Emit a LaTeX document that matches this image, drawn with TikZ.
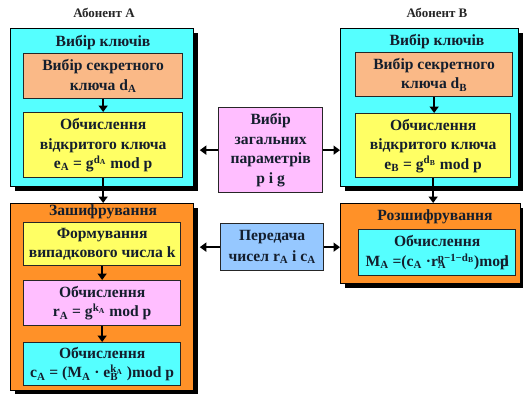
\documentclass[tikz,border=0pt]{standalone}
\usepackage{fontspec}
\setmainfont{Liberation Serif}[BoldFont={Liberation Serif Bold},ItalicFont={Liberation Serif Italic}]
\usetikzlibrary{shadows,arrows.meta}
\definecolor{cyanc}{RGB}{85,255,255}
\definecolor{orangec}{RGB}{255,145,40}
\definecolor{salmonc}{RGB}{250,185,135}
\definecolor{yellowc}{RGB}{255,255,100}
\definecolor{pinkc}{RGB}{255,190,255}
\definecolor{bluec}{RGB}{150,200,255}
\definecolor{txtc}{RGB}{20,30,45}
\begin{document}
\begin{tikzpicture}[x=1pt,y=-1pt,
 outerbox/.style={draw=black,line width=0.8pt,anchor=north west,inner sep=0pt,
   drop shadow={shadow xshift=5pt,shadow yshift=-5pt,fill=black,opacity=1}},
 innerbox/.style={draw=black!85,line width=1.3pt,anchor=north west,inner sep=0pt,align=center,
   font=\bfseries\fontsize{15.6}{19.5}\selectfont,text=txtc},
 boxtitle/.style={font=\bfseries\fontsize{15.6}{17}\selectfont,text=txtc},
 headlbl/.style={font=\bfseries\fontsize{13}{15}\selectfont,text=black!85},
 arr/.style={line width=1.7pt,-{Triangle[length=6.5pt,width=9pt]}}]
\useasboundingbox (0,0) rectangle (523,394);

% headers
\node[headlbl] (ha) at (104,13) {Абонент А};
\node[headlbl] (hb) at (437,13) {Абонент В};

% left key selection
\node[outerbox,fill=cyanc,minimum width=183pt,minimum height=158pt] (lk) at (10,28) {};
\node[boxtitle] (lkt) at (103,43) {Вибір ключів};
\node[innerbox,fill=salmonc,minimum width=159pt,minimum height=45pt] (lsec) at (23,53)
  {Вибір секретного\\ключа d\textsubscript{A}};
\node[innerbox,fill=yellowc,minimum width=159pt,minimum height=65pt] (lpub) at (23,112)
  {Обчислення\\відкритого ключа\\e\textsubscript{A} = g\textsuperscript{d\textsubscript{A}} mod p};

% right key selection
\node[outerbox,fill=cyanc,minimum width=178pt,minimum height=158pt] (rk) at (340,28) {};
\node[boxtitle] (rkt) at (437,42) {Вибір ключів};
\node[innerbox,fill=salmonc,minimum width=157pt,minimum height=44pt] (rsec) at (355,52)
  {Вибір секретного\\ключа d\textsubscript{B}};
\node[innerbox,fill=yellowc,minimum width=155pt,minimum height=64pt] (rpub) at (355,113)
  {Обчислення\\відкритого ключа\\e\textsubscript{B} = g\textsuperscript{d\textsubscript{B}} mod p};

% middle boxes
\node[innerbox,fill=pinkc,minimum width=104pt,minimum height=85pt] (par) at (218,107)
  {Вибір\\загальних\\параметрів\\p і g};
\node[innerbox,fill=bluec,minimum width=103pt,minimum height=47pt,font=\bfseries\fontsize{15.6}{21}\selectfont] (tr) at (220,223)
  {Передача\\чисел r\textsubscript{A} і c\textsubscript{A}};

% left encryption
\node[outerbox,fill=orangec,minimum width=183pt,minimum height=187pt] (lenc) at (10,203) {};
\node[boxtitle] (lenct) at (103,212) {Зашифрування};
\node[innerbox,fill=yellowc,minimum width=157pt,minimum height=43pt] (lk1) at (23,222)
  {Формування\\випадкового числа k};
\node[innerbox,fill=pinkc,minimum width=157pt,minimum height=45pt] (lk2) at (23,280)
  {Обчислення\\r\textsubscript{A} = g\textsuperscript{k\textsubscript{A}} mod p};
\node[innerbox,fill=cyanc,minimum width=157pt,minimum height=43pt] (lk3) at (23,342)
  {Обчислення\\c\textsubscript{A} = (M\textsubscript{A} · e\rlap{\textsubscript{B}}\textsuperscript{k\textsubscript{A}} )mod p};

% right decryption
\node[outerbox,fill=orangec,minimum width=180pt,minimum height=80pt] (rdec) at (340,203) {};
\node[boxtitle] (rdect) at (435,217) {Розшифрування};
\node[innerbox,fill=cyanc,minimum width=157pt,minimum height=46pt] (rd1) at (358,229)
  {Обчислення\\M\textsubscript{A} =(c\textsubscript{A} ·r\rlap{\textsubscript{A}}\textsuperscript{p−1−d\textsubscript{B}})mo\rlap{d}p};

% connectors
\coordinate (lkr) at ([xshift=6pt]lk.east);
\coordinate (lencr) at ([xshift=6pt]lenc.east);
\draw[arr] (lsec) -- (lpub);
\draw[arr] (rsec.south) -- (rsec.south |- rpub.north);
\draw[arr] (lpub.south) -- (lpub.south |- lenc.north);
\draw[arr] (rpub.south) -- (rpub.south |- rdec.north);
\draw[arr] (lk1) -- (lk2);
\draw[arr] (lk2) -- (lk3);
\draw[arr] (par.west) -- (par.west -| lkr);
\draw[arr] (par.east) -- (par.east -| rk.west);
\draw[arr] (tr.west) -- (tr.west -| lencr);
\draw[arr] (tr.east) -- (tr.east -| rdec.west);
\end{tikzpicture}
\end{document}
